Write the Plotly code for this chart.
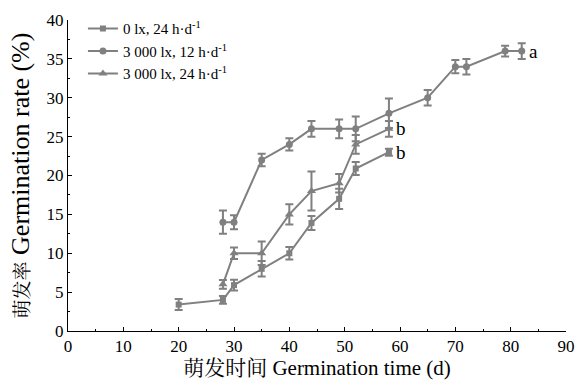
import plotly.graph_objects as go

# Data
x_dark = [20, 28, 30, 35, 40, 44, 49, 52, 58]
y_dark = [3.4, 4.0, 5.9, 8.0, 10.0, 13.9, 17.0, 20.9, 23.0]
e_dark = [0.7, 0.5, 0.7, 1.0, 0.8, 0.9, 1.3, 0.85, 0.45]

x_12h = [28, 30, 35, 40, 44, 49, 52, 58, 65, 70, 72, 79, 82]
y_12h = [14.0, 14.0, 22.0, 24.0, 26.0, 26.0, 26.0, 28.0, 30.0, 34.0, 34.0, 36.0, 36.0]
e_12h = [1.5, 0.9, 0.8, 0.8, 1.0, 1.2, 1.6, 1.9, 1.0, 0.85, 1.0, 0.7, 1.0]

x_24h = [28, 30, 35, 40, 44, 49, 52, 58]
y_24h = [6.0, 10.0, 10.0, 15.0, 18.0, 19.0, 24.0, 26.0]
e_24h = [0.55, 0.75, 1.5, 1.3, 2.5, 1.2, 1.2, 1.0]

names = ["0 lx, 24 h·d<sup>-1</sup>", "3 000 lx, 12 h·d<sup>-1</sup>", "3 000 lx, 24 h·d<sup>-1</sup>"]
symbols = ["square", "circle", "triangle-up"]
letters = [("b", 58, 23.0), ("a", 82, 36.0), ("b", 58, 26.0)]

GRAY = "#808080"
FONT = "Liberation Serif, Noto Serif CJK SC, Noto Sans CJK SC, serif"

fig = go.Figure()
for xs, ys, es, nm, sym, ms in [(x_dark, y_dark, e_dark, names[0], symbols[0], 6),
                                (x_12h, y_12h, e_12h, names[1], symbols[1], 7),
                                (x_24h, y_24h, e_24h, names[2], symbols[2], 8)]:
    fig.add_trace(go.Scatter(
        x=xs, y=ys, name=nm, mode="lines+markers",
        line=dict(color=GRAY, width=2),
        marker=dict(symbol=sym, size=ms, color=GRAY),
        error_y=dict(type="data", array=es, visible=True, color=GRAY, thickness=2, width=4),
    ))

for txt, lx, ly in letters:
    fig.add_annotation(x=lx, y=ly, text=txt, showarrow=False, xanchor="left",
                       xshift=5, font=dict(family=FONT, size=19, color="black"))

fig.update_layout(
    width=578, height=387,
    margin=dict(l=68, r=12, t=18, b=56),
    paper_bgcolor="white", plot_bgcolor="white",
    font=dict(family=FONT, size=17, color="black"),
    showlegend=True,
    legend=dict(x=0.03, y=1.025, xanchor="left", yanchor="top",
                bgcolor="rgba(0,0,0,0)", font=dict(family=FONT, size=15),
                tracegroupgap=0, itemwidth=30),
)
fig.update_xaxes(
    range=[0, 90], dtick=10, tick0=0, showgrid=False, zeroline=False,
    showline=True, linecolor="black", linewidth=1, automargin=False,
    ticks="inside", ticklen=4, tickcolor="black",
    minor=dict(dtick=5, ticks="inside", ticklen=2, tickcolor="black", showgrid=False),
    title=dict(text="萌发时间 Germination time (d)", font=dict(size=21), standoff=2),
    tickfont=dict(size=17),
)
fig.update_yaxes(
    range=[0, 40], dtick=5, tick0=0, showgrid=False, zeroline=False,
    showline=True, linecolor="black", linewidth=1, automargin=False,
    ticks="inside", ticklen=4, tickcolor="black",
    minor=dict(dtick=2.5, ticks="inside", ticklen=2, tickcolor="black", showgrid=False),
    title=dict(text="<span style='font-size:19px'>萌发率</span> Germination rate (%)",
               font=dict(size=26), standoff=9),
    tickfont=dict(size=17),
)

fig.write_html("out.html")
